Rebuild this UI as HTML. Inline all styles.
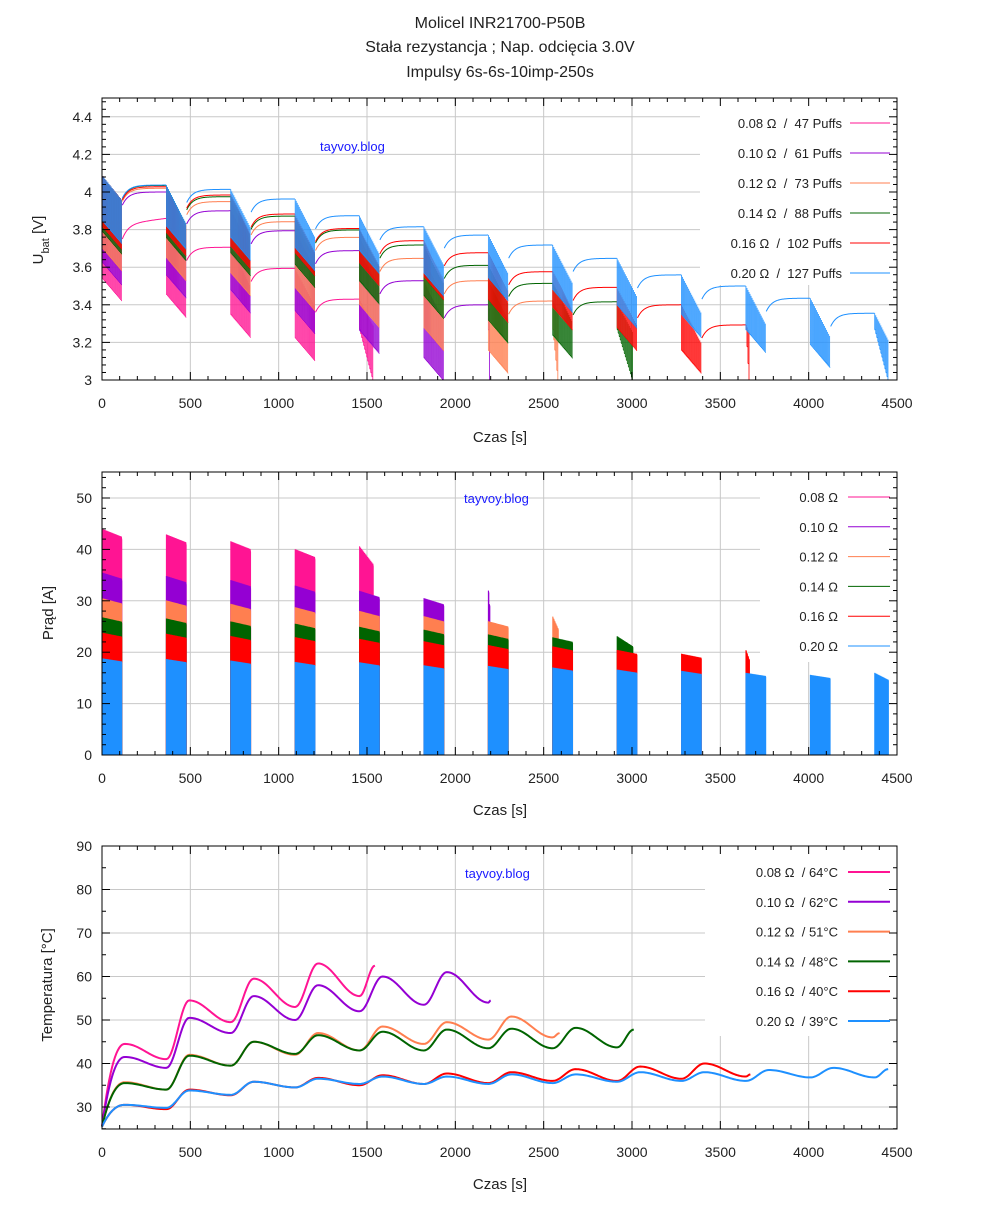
<!DOCTYPE html>
<html><head><meta charset="utf-8"><style>
body{margin:0;background:#fff}
svg text{font-family:"Liberation Sans","DejaVu Sans",sans-serif;fill:#222}
</style></head><body>
<svg id="s" width="1000" height="1200" xmlns="http://www.w3.org/2000/svg">
<rect width="1000" height="1200" fill="#fff"/>
<text x="500" y="28" font-size="16" text-anchor="middle">Molicel INR21700-P50B</text>
<text x="500" y="52" font-size="16" text-anchor="middle">Stała rezystancja ; Nap. odcięcia 3.0V</text>
<text x="500" y="77" font-size="16" text-anchor="middle">Impulsy 6s-6s-10imp-250s</text>
<g id="g"></g>
</svg>
<script>
const NS="http://www.w3.org/2000/svg";
const G=document.getElementById('g');
function el(tag,attrs,txt){const e=document.createElementNS(NS,tag);for(const k in attrs)e.setAttribute(k,attrs[k]);if(txt!==undefined)e.textContent=txt;G.appendChild(e);return e;}
const L=102,Rr=897;
const X=t=>L+t*795/4500;
const P=[
 {top:98,bot:380,Y:v=>380-(v-3)*188,ticks:[3,3.2,3.4,3.6,3.8,4,4.2,4.4],minor:0.04,lo:3,hi:4.5,lab:y=>String(Math.round(y*10)/10),box:[700,99,196,186],xl:437},
 {top:472,bot:755,Y:i=>755-i*5.14,ticks:[0,10,20,30,40,50],minor:2,lo:0,hi:55,lab:y=>String(y),box:[760,474,136,188],xl:810},
 {top:846,bot:1129,Y:T=>1107-(T-30)*4.35,ticks:[30,40,50,60,70,80,90],minor:5,lo:25,hi:90,lab:y=>String(y),box:[705,848,191,188],xl:1184}
];
P.forEach((p,pi)=>{
 for(let t=500;t<4500;t+=500)el('line',{x1:X(t),x2:X(t),y1:p.top,y2:p.bot,stroke:'#c8c8c8','stroke-width':1});
 p.ticks.forEach(v=>{const y=p.Y(v);if(y>p.top+1&&y<p.bot-1)el('line',{x1:L,x2:Rr,y1:y,y2:y,stroke:'#c8c8c8','stroke-width':1});});
 el('rect',{x:p.box[0],y:p.box[1],width:p.box[2],height:p.box[3],fill:'#fff'});
});
const S=[
{c:'#ff1493',R:[3.86,3.706,3.594,3.43],B:[3.425,3.337,3.23,3.106,3.0],n:4.7,I0:44},
{c:'#9400d3',R:[4.0,3.90,3.794,3.688,3.528,3.40],B:[3.51,3.44,3.36,3.25,3.145,3.0,3.0],n:6.1,I0:35.5},
{c:'#ff7f50',R:[4.02,3.949,3.842,3.759,3.647,3.528,3.42],B:[3.585,3.532,3.452,3.372,3.284,3.16,3.04,3.0],n:7.3,I0:30.5},
{c:'#006400',R:[4.035,3.975,3.872,3.798,3.718,3.61,3.514,3.416],B:[3.674,3.638,3.558,3.496,3.408,3.33,3.2,3.12,3.0],n:8.8,I0:26.8},
{c:'#ff0000',R:[4.028,3.984,3.883,3.806,3.741,3.677,3.576,3.493,3.40,3.293],B:[3.70,3.665,3.594,3.558,3.505,3.43,3.31,3.27,3.16,3.04,3.0],n:10.2,I0:23.8},
{c:'#1e90ff',R:[4.037,4.014,3.963,3.874,3.815,3.771,3.718,3.647,3.559,3.50,3.435,3.355],B:[3.73,3.70,3.64,3.585,3.57,3.45,3.425,3.363,3.28,3.23,3.15,3.07,3.0],n:12.7,I0:18.8}
];
const TP=[
[[0,25.5],[130,44.5],[364,41],[494,54.5],[729,49.5],[859,59.5],[1093,53],[1223,63],[1458,55.5],[1545,62.5]],
[[0,25.5],[130,41.5],[364,39],[494,50.5],[729,47],[859,55.5],[1093,50],[1223,58],[1458,52],[1588,60],[1822,53.5],[1952,61],[2187,54],[2200,54.5]],
[[0,25.5],[130,35.7],[364,34],[494,42],[729,39.5],[859,45],[1093,42],[1223,47],[1458,43],[1588,48.5],[1822,44.5],[1952,49.5],[2187,45.5],[2317,50.8],[2551,46],[2590,47]],
[[0,25.5],[130,35.5],[364,34],[494,41.8],[729,39.5],[859,45],[1093,42.2],[1223,46.5],[1458,43],[1588,47.3],[1822,43],[1952,47.8],[2187,43.5],[2317,48],[2551,43.5],[2681,48.2],[2916,43.7],[3010,47.8]],
[[0,25.5],[130,30.5],[364,29.5],[494,34],[729,32.7],[859,35.8],[1093,34.5],[1223,36.7],[1458,35],[1588,37.3],[1822,35.3],[1952,37.7],[2187,35.5],[2317,38],[2551,36],[2681,38.7],[2916,36],[3046,39.3],[3280,36.5],[3410,40],[3645,37],[3670,37.5]],
[[0,25.5],[130,30.5],[364,29.8],[494,33.8],[729,32.8],[859,35.8],[1093,34.5],[1223,36.5],[1458,35.3],[1588,37],[1822,35.3],[1952,37],[2187,35.3],[2317,37.5],[2551,35.5],[2681,37.5],[2916,35.8],[3046,38],[3280,36],[3410,38],[3645,36],[3775,38.5],[4010,36.8],[4140,39],[4374,36.8],[4450,38.7]]
];
el('clipPath',{id:'c1'});
const cp=G.lastChild;const cr=document.createElementNS(NS,'rect');cr.setAttribute('x',L);cr.setAttribute('y',98);cr.setAttribute('width',795);cr.setAttribute('height',282);cp.appendChild(cr);
const PER=364.5,DUR=115,NP=20,dt=DUR/NP;
const f=v=>v.toFixed(2);
S.forEach((s,si)=>{
 const Y1=P[0].Y,Y2=P[1].Y;
 const full=Math.floor(s.n),frac=s.n-full;
 const nb=frac>0?full+1:full;
 let d1='',d1s='',d2='';
 const Reff=(s.B[0]+0.12)/s.I0;
 for(let k=0;k<nb;k++){
  const t0=k*PER;const trunc=(k===full);
  const np=trunc?Math.max(1,Math.round(NP*frac)):NP;
  const Rp=k===0?4.09:s.R[k-1];
  const B1=s.B[k],B0=B1+(trunc?0.27:0.12);
  const Te=Rp-(k===0?0.13:0.2);
  for(let j=0;j<np;j++){
   const u=np>1?j/(np-1):1;
   const tt=t0+j*dt;
   const top=Rp+(Te-Rp)*(trunc?u*frac:u), bo=B0+(B1-B0)*u;
   const I=bo/Reff;
   d1s+='M'+f(X(tt))+','+f(Y1(top))+'L'+f(X(tt))+','+f(Y1(bo))+'L'+f(X(tt+dt*0.4))+','+f(Y1(bo-0.005));
   d2+='M'+f(X(tt))+','+f(Y2(0))+'L'+f(X(tt))+','+f(Y2(I))+'L'+f(X(tt+dt*0.45))+','+f(Y2(I*0.985))+'L'+f(X(tt+dt*0.45))+','+f(Y2(0));
  }
  if(!trunc&&k<s.R.length){
   const Rn=s.R[k],te=t0+DUR,tn=(k+1)*PER;
   const amp=(si===0&&k===0)?0.08:0.07;
   let d='';
   for(let t=te;t<=tn;t+=4){
    const v=Rn-amp*Math.exp(-(t-te)/35)-(si===0&&k===0?0.03*(1-(t-te)/(tn-te)):0);
    d+=(d?'L':'M')+f(X(t))+','+f(Y1(v));
   }
   d1+=d;
  }
 }
 el('path',{d:d1s,fill:'none',stroke:s.c,'stroke-width':0.8,'clip-path':'url(#c1)'});
 el('path',{d:d1,fill:'none',stroke:s.c,'stroke-width':1,'clip-path':'url(#c1)'});
 el('path',{d:d2,fill:'none',stroke:s.c,'stroke-width':1});
});
TP.forEach((pts,si)=>{
 const Y3=P[2].Y;let d='';
 for(let i=0;i<pts.length-1;i++){
  const [ta,a]=pts[i],[tb,b]=pts[i+1];
  const n=Math.max(4,Math.round((tb-ta)/8));
  for(let j=(i===0?0:1);j<=n;j++){
   const u=j/n;let w;
   if(i===0)w=1-Math.pow(1-u,2.2);else w=(1-Math.cos(Math.PI*u))/2;
   const t=ta+(tb-ta)*u,v=a+(b-a)*w;
   d+=(d?'L':'M')+f(X(t))+','+f(Y3(v));
  }
 }
 el('path',{d:d,fill:'none',stroke:S[si].c,'stroke-width':2});
});
P.forEach((p,pi)=>{
 el('rect',{x:L,y:p.top,width:795,height:p.bot-p.top,fill:'none',stroke:'#000','stroke-width':1});
 for(let t=0;t<=4500;t+=100){
  const x=X(t),m=t%500===0,len=m?8:4;
  el('line',{x1:x,x2:x,y1:p.bot,y2:p.bot-len,stroke:'#000'});
  el('line',{x1:x,x2:x,y1:p.top,y2:p.top+len,stroke:'#000'});
  if(m)el('text',{x:x,y:p.bot+28,'font-size':14,'text-anchor':'middle'},String(t));
 }
 for(let v=p.lo;v<=p.hi+1e-6;v+=p.minor){
  const y=p.Y(v);if(y<p.top-0.5||y>p.bot+0.5)continue;
  const m=p.ticks.some(q=>Math.abs(q-v)<1e-6),len=m?8:4;
  el('line',{x1:L,x2:L+len,y1:y,y2:y,stroke:'#000'});
  el('line',{x1:Rr,x2:Rr-len,y1:y,y2:y,stroke:'#000'});
 }
 p.ticks.forEach(v=>el('text',{x:92,y:p.Y(v)+5,'font-size':14,'text-anchor':'end'},p.lab(v)));
 el('text',{x:500,y:p.xl+5,'font-size':15,'text-anchor':'middle'},'Czas [s]');
});
let t1=el('text',{x:0,y:0,'font-size':15,'text-anchor':'middle',transform:'translate(43,240) rotate(-90)'});
t1.innerHTML='U<tspan baseline-shift="sub" font-size="11">bat</tspan> [V]';
el('text',{x:0,y:0,'font-size':15,'text-anchor':'middle',transform:'translate(53,613) rotate(-90)'},'Prąd [A]');
el('text',{x:0,y:0,'font-size':15,'text-anchor':'middle',transform:'translate(52,985) rotate(-90)'},'Temperatura [°C]');
el('text',{x:320,y:151,'font-size':13,style:'fill:#1a1aff'},'tayvoy.blog');
el('text',{x:464,y:503,'font-size':13,style:'fill:#1a1aff'},'tayvoy.blog');
el('text',{x:465,y:878,'font-size':13,style:'fill:#1a1aff'},'tayvoy.blog');
const N='\u00a0';
const ohm=['0.08','0.10','0.12','0.14','0.16','0.20'];
const puffs=['47','61','73','88','102','127'];
const temps=['64','62','51','48','40','39'];
S.forEach((s,i)=>{
 let y=123+i*30;
 el('text',{x:842,y:y+5,'font-size':13,'text-anchor':'end'},ohm[i]+' Ω'+N+N+'/'+N+N+puffs[i]+' Puffs');
 el('line',{x1:850,x2:890,y1:y,y2:y,stroke:s.c,'stroke-width':1});
 y=497+i*29.8;
 el('text',{x:838,y:y+5,'font-size':13,'text-anchor':'end'},ohm[i]+' Ω');
 el('line',{x1:848,x2:890,y1:y,y2:y,stroke:s.c,'stroke-width':1});
 y=872+i*29.8;
 el('text',{x:838,y:y+5,'font-size':13,'text-anchor':'end'},ohm[i]+' Ω'+N+N+'/'+N+temps[i]+'°C');
 el('line',{x1:848,x2:890,y1:y,y2:y,stroke:s.c,'stroke-width':2});
});
</script>
</body></html>
